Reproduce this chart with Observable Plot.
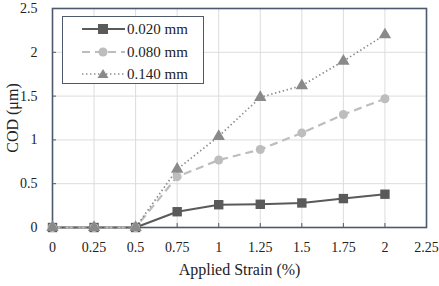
<!DOCTYPE html>
<html><head><meta charset="utf-8">
<script src="https://cdn.jsdelivr.net/npm/d3@7"></script>
<script src="https://cdn.jsdelivr.net/npm/@observablehq/plot@0.6"></script>
<style>
body{margin:0;background:#fff}
#c{position:relative;width:439px;height:286px;font-family:"Liberation Serif",serif}
#legend{position:absolute;left:62px;top:16px;width:140px;height:66px;border:1.5px solid #4d5a6e;background:#fff;font-family:"Liberation Serif",serif;font-size:15px;color:#222}
#legend .row{position:absolute;left:0;height:20px;display:flex;align-items:center}
#legend svg{display:block}
</style>
</head><body><div id="c"><div id="legend"></div></div>
<script>
const strain = [0, 0.25, 0.5, 0.75, 1, 1.25, 1.5, 1.75, 2];
const cod020 = [0, 0, 0, 0.18, 0.26, 0.265, 0.28, 0.33, 0.38];
const cod080 = [0, 0, 0, 0.58, 0.77, 0.89, 1.08, 1.29, 1.47];
const cod140 = [0, 0, 0, 0.665, 1.04, 1.486, 1.62, 1.90, 2.2];
const seriesNames = ["0.020 mm", "0.080 mm", "0.140 mm"];
const xTicks = [0, 0.25, 0.5, 0.75, 1, 1.25, 1.5, 1.75, 2, 2.25];
const yTicks = [0, 0.5, 1, 1.5, 2, 2.5];

const styles = [
  {stroke: "#5a5a5a", width: 2, dash: null, symbol: "square", r: 5.3},
  {stroke: "#bdbdbd", width: 2.2, dash: "8,5", symbol: "circle", r: 4.5},
  {stroke: "#8a8a8a", width: 1.7, dash: "1.4,2.6", symbol: "triangle", r: 4.6}
];
const values = [cod020, cod080, cod140];
const series = values.map((vals, i) => strain.map((s, j) => ({x: s, y: vals[j], name: seriesNames[i]})));

const fmt = d => String(d);
const frameColor = "#4d5a6e";
const marks = [
  Plot.gridX(xTicks, {stroke: "#dcdcdc", strokeOpacity: 1, strokeWidth: 1}),
  Plot.gridY(yTicks, {stroke: "#dcdcdc", strokeOpacity: 1, strokeWidth: 1}),
  Plot.tickX(xTicks, {x: d => d, insetTop: 215, stroke: frameColor, strokeWidth: 1}),
  Plot.tickY(yTicks, {y: d => d, insetRight: 370, stroke: frameColor, strokeWidth: 1}),
  Plot.frame({stroke: frameColor, strokeWidth: 1.6}),
  Plot.axisX(xTicks, {tickSize: 0, tickPadding: 15, fontSize: 14, tickFormat: fmt, label: null}),
  Plot.axisY(yTicks, {tickSize: 0, tickPadding: 15, fontSize: 14, tickFormat: fmt, label: null}),
  Plot.axisX({ticks: [], tickSize: 0, label: "Applied Strain (%)", labelAnchor: "center", labelOffset: 47, labelArrow: false, fontSize: 16}),
  Plot.axisY({ticks: [], tickSize: 0, label: "COD (μm)", labelAnchor: "center", labelOffset: 46, labelArrow: false, fontSize: 16})
];
series.forEach((data, i) => {
  const s = styles[i];
  marks.push(Plot.line(data, {x: "x", y: "y", stroke: s.stroke, strokeWidth: s.width, strokeDasharray: s.dash, strokeLinecap: "butt"}));
});
series.forEach((data, i) => {
  const s = styles[i];
  marks.push(Plot.dot(data, {x: "x", y: "y", symbol: s.symbol, r: s.r, fill: s.stroke, stroke: "none"}));
});

const chart = Plot.plot({
  width: 439, height: 286,
  marginLeft: 52, marginRight: 13, marginTop: 8, marginBottom: 59,
  style: {fontFamily: "Liberation Serif, serif", fontSize: "14px", color: "#222", background: "#fff"},
  x: {domain: [0, 2.25]},
  y: {domain: [0, 2.5]},
  marks
});
document.getElementById("c").prepend(chart);

// legend
const leg = document.getElementById("legend");
const rowsY = [2, 25, 47];
styles.forEach((s, i) => {
  const row = document.createElement("div");
  row.className = "row";
  row.style.top = rowsY[i] + "px";
  const sym = s.symbol === "square" ? `<rect x="35" y="5" width="10" height="10" fill="${s.stroke}"/>`
    : s.symbol === "circle" ? `<circle cx="40" cy="10" r="4.6" fill="${s.stroke}"/>`
    : `<path d="M40,5 L45.5,14 L34.5,14 Z" fill="${s.stroke}"/>`;
  row.innerHTML = `<svg width="64" height="20"><line x1="19" x2="62" y1="10" y2="10" stroke="${s.stroke}" stroke-width="${s.width}" ${s.dash ? `stroke-dasharray="${s.dash}"` : ""}/>${sym}</svg><span>${seriesNames[i]}</span>`;
  leg.appendChild(row);
});
</script>
</body></html>
